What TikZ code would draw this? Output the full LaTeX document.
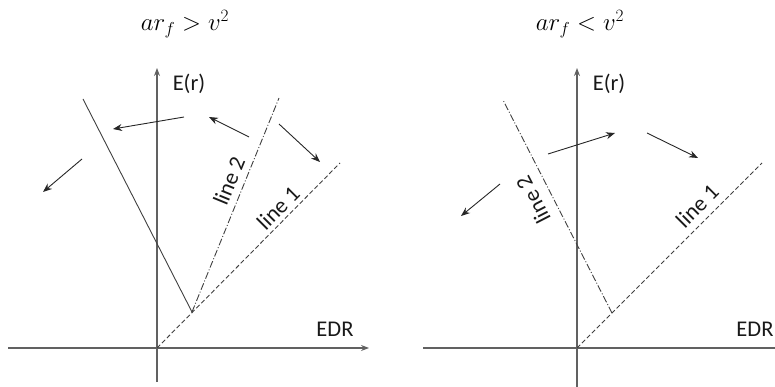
\documentclass[tikz,border=0pt]{standalone}
\usepackage{fontspec}
\setmainfont{Carlito}
\usetikzlibrary{arrows.meta}
\tikzset{
  axis/.style={draw=black!62, line width=1.1pt, -{Stealth[length=8pt,width=6pt]}, black!62},
  plainaxis/.style={draw=black!62, line width=1.1pt},
  lineone/.style={draw=black!75, line width=0.9pt, dash pattern=on 4.5pt off 2.5pt},
  linetwo/.style={draw=black!75, line width=0.9pt, dash pattern=on 7pt off 2pt on 1pt off 2pt},
  solidline/.style={draw=black!75, line width=0.9pt},
  flow/.style={draw=black!85, line width=0.9pt, -{Stealth[length=9pt,width=7pt]}},
  lbl/.style={font=\fontsize{22.5}{26}\selectfont, inner sep=0pt, text=black!90},
  ttl/.style={font=\fontsize{23}{27}\selectfont, inner sep=0pt},
}
\begin{document}
\begin{tikzpicture}[x=1pt,y=-1pt]
\useasboundingbox (0,0) rectangle (775,387);
% ---------- left panel ----------
\node[ttl] (tl) at (185,24) {$ar_f > v^2$};
\coordinate (lo) at (157,348);
\coordinate (lyb) at (157,382);
\coordinate (lyt) at (157,68);
\coordinate (lxl) at (8,348);
\coordinate (lxr) at (369,348);
\draw[axis] (lyb) -- (lyt);
\draw[axis] (lxl) -- (lxr);
\node[lbl] (ler) at (189,84) {E(r)};
\node[lbl] (ledr) at (335,329) {EDR};
\coordinate (l1e) at (340,163);
\coordinate (lk) at (192,312);
\coordinate (l2e) at (279,98);
\coordinate (lse) at (83,99);
\draw[lineone] (lo) -- (l1e);
\draw[linetwo] (lk) -- (l2e);
\draw[solidline] (lse) -- (lk);
\node[lbl, rotate=67.7] (ll2) at (229,181) {line 2};
\node[lbl, rotate=45] (ll1) at (278,208) {line 1};
\coordinate (la1s) at (184,117); \coordinate (la1e) at (113,129);
\coordinate (la2s) at (249,137); \coordinate (la2e) at (209,117);
\coordinate (la3s) at (279,124); \coordinate (la3e) at (320,162);
\coordinate (la4s) at (82,159);  \coordinate (la4e) at (43,192);
\draw[flow] (la1s) -- (la1e);
\draw[flow] (la2s) -- (la2e);
\draw[flow] (la3s) -- (la3e);
\draw[flow] (la4s) -- (la4e);
% ---------- right panel ----------
\node[ttl] (tr) at (580,24) {$ar_f < v^2$};
\coordinate (ro) at (577,348);
\coordinate (ryb) at (577,387);
\coordinate (ryt) at (577,68);
\coordinate (rxl) at (423,348);
\coordinate (rxr) at (775,348);
\draw[axis] (ryb) -- (ryt);
\draw[plainaxis] (rxl) -- (rxr);
\node[lbl] (rer) at (609,84) {E(r)};
\node[lbl] (redr) at (755,329) {EDR};
\coordinate (r1e) at (762,163);
\coordinate (rk) at (612,313);
\coordinate (r2e) at (503,100);
\draw[lineone] (ro) -- (r1e);
\draw[linetwo] (rk) -- (r2e);
\node[lbl, rotate=117.2] (rl2) at (533,200) {line 2};
\node[lbl, rotate=45] (rl1) at (697,206) {line 1};
\coordinate (ra1s) at (548,154); \coordinate (ra1e) at (615,133);
\coordinate (ra2s) at (647,133); \coordinate (ra2e) at (698,158);
\coordinate (ra3s) at (500,184); \coordinate (ra3e) at (461,216);
\draw[flow] (ra1s) -- (ra1e);
\draw[flow] (ra2s) -- (ra2e);
\draw[flow] (ra3s) -- (ra3e);
\end{tikzpicture}
\end{document}
